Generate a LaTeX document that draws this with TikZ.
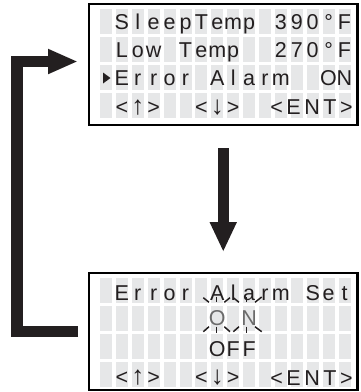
\documentclass[tikz,border=0pt]{standalone}
\usepackage{fontspec}
\setmainfont{Liberation Sans}
\usetikzlibrary{arrows.meta}

\definecolor{lcdgrey}{RGB}{230,231,232}
\definecolor{ink}{RGB}{35,31,32}

\tikzset{
  lcdbox/.style={draw=black, line width=2.5pt, inner sep=0pt, outer sep=0pt, minimum width=268.5pt},
  lcdcell/.style={fill=lcdgrey},
  lcdtext/.style={text=ink, anchor=base, inner sep=0pt, font=\fontsize{21.5}{22}\selectfont},
  blinktext/.style={lcdtext, text=black!58},
  blinkray/.style={line width=1.5pt, ink},
  flow/.style={line width=11.5pt, ink}
}

\newcommand{\lcdcells}[1]{%
  \foreach \c in {0,...,15}
    \foreach \r in {0,...,3}
      \fill[lcdcell] (100+15.9*\c,-8.5-28.3*\r-#1) rectangle ++(12,-25);
}
\newcommand{\lcdline}[4][lcdtext]{%
  \foreach \ch [count=\c from 0] in {#4}
    \node[#1] at (106+15.9*\c,-29.5-28.2*#3-#2) {\ch};
}
\newcommand{\uparr}{{\fontsize{26}{26}\selectfont ↑}}
\newcommand{\dnarr}{{\fontsize{26}{26}\selectfont ↓}}

\begin{document}
\begin{tikzpicture}[x=1pt,y=1pt]
            \useasboundingbox (0,0) rectangle (360,-392);
            \node[lcdbox, minimum height=121pt] (menu) at (223.25,-64.5) {};
            \node[lcdbox, minimum height=117pt] (alarm) at (223.25,-331.5) {};
            \lcdcells{0}
            \lcdcells{269}
            \lcdline{0}{0}{{},S,l,e,e,p,T,e,m,p,{},3,9,0,°,F}
            \lcdline{0}{1}{{},L,o,w,{},T,e,m,p,{},{},2,7,0,°,F}
            \lcdline{0}{2}{{},E,r,r,o,r,{},A,l,a,r,m,{},{},O,N}
            \lcdline{0}{3}{{},<,\uparr,>,{},{},<,\dnarr,>}
            \node[lcdtext] (menuent) at (311.5,-114.1) {<\,E\,N\,T\,>};
            \fill[ink] (103,-72.5) -- (110.5,-78) -- (103,-83.5) -- cycle;
            \lcdline{270.5}{0}{{},E,r,r,o,r,{},A,l,a,r,m,{},S,e,t}
            \lcdline[blinktext]{267.5}{1}{{},{},{},{},{},{},{},O,{},N}
            \lcdline{270.5}{2}{{},{},{},{},{},{},{},O,F,F}
            \lcdline{270.5}{3}{{},<,\uparr,>,{},{},<,\dnarr,>}
            \node[lcdtext] (alarment) at (311.5,-385.1) {<\,E\,N\,T\,>};
            \foreach \xa/\ya/\xb/\yb in {203.3/297.7/209/302.3, 216.7/296.7/216.7/301.7,
                224.3/302.3/230/297.7, 233.3/297.7/239/302.3, 246.7/296.7/246.7/301.7,
                255/302.3/261.7/297, 203.3/331.7/209/326.7, 216.7/326.7/216.7/333,
                224.3/326.7/230/331.7, 233.3/331.7/239/326.7, 246.7/326.7/246.7/333,
                255/326.7/261.7/331.7}
              \draw[blinkray] (\xa,-\ya) -- (\xb,-\yb);
            \draw[flow, -{Triangle[length=30pt,width=25pt]}] ([yshift=-23pt]menu.south) -- ([yshift=21pt]alarm.north);
            \draw[flow, -{Triangle[length=30pt,width=23pt]}] ([xshift=-11pt]alarm.west) -- ++(-61,0) |- ([xshift=-11pt,yshift=3pt]menu.west);
\end{tikzpicture}
\end{document}
